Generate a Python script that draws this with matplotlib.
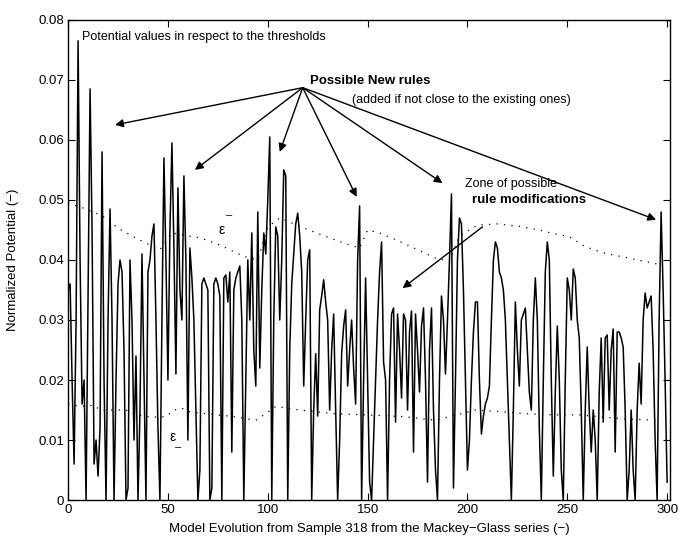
import numpy as np
import matplotlib
matplotlib.use("Agg")
import matplotlib.pyplot as plt

# normalized potential, one value per sample
potential = [
    0.035, 0.036, 0.020, 0.006, 0.030, 0.0765, 0.040, 0.016, 0.020, 0.000,   # 0-9
    0.035, 0.0685, 0.045, 0.006, 0.010, 0.004, 0.012, 0.058, 0.020, 0.000,   # 10-19
    0.030, 0.0485, 0.030, 0.000, 0.020, 0.036, 0.040, 0.038, 0.025, 0.000,   # 20-29
    0.002, 0.040, 0.030, 0.010, 0.024, 0.000, 0.015, 0.041, 0.020, 0.000,    # 30-39
    0.038, 0.040, 0.044, 0.046, 0.030, 0.012, 0.000, 0.030, 0.057, 0.040,    # 40-49
    0.020, 0.045, 0.0595, 0.042, 0.021, 0.052, 0.035, 0.030, 0.054, 0.040,   # 50-59
    0.010, 0.042, 0.037, 0.030, 0.015, 0.000, 0.005, 0.036, 0.037, 0.036,    # 60-69
    0.035, 0.000, 0.002, 0.036, 0.037, 0.036, 0.034, 0.000, 0.037, 0.0375,   # 70-79
    0.033, 0.038, 0.008, 0.035, 0.037, 0.038, 0.039, 0.030, 0.000, 0.020,    # 80-89
    0.040, 0.030, 0.0445, 0.025, 0.019, 0.048, 0.022, 0.035, 0.0445, 0.041,  # 90-99
    0.050, 0.0605, 0.000, 0.030, 0.0455, 0.044, 0.030, 0.040, 0.055, 0.054,  # 100-109
    0.000, 0.025, 0.036, 0.041, 0.046, 0.0478, 0.044, 0.038, 0.019, 0.030,   # 110-119
    0.040, 0.0417, 0.000, 0.015, 0.0244, 0.014, 0.0317, 0.034, 0.0367, 0.033,  # 120-129
    0.030, 0.015, 0.025, 0.031, 0.015, 0.000, 0.010, 0.0244, 0.029, 0.0317,  # 130-139
    0.019, 0.025, 0.030, 0.022, 0.016, 0.040, 0.049, 0.000, 0.020, 0.037,    # 140-149
    0.020, 0.003, 0.000, 0.010, 0.020, 0.030, 0.038, 0.043, 0.023, 0.020,    # 150-159
    0.000, 0.020, 0.031, 0.032, 0.013, 0.031, 0.025, 0.017, 0.031, 0.030,    # 160-169
    0.015, 0.028, 0.0315, 0.008, 0.031, 0.025, 0.018, 0.029, 0.032, 0.020,   # 170-179
    0.003, 0.025, 0.032, 0.015, 0.005, 0.000, 0.020, 0.034, 0.030, 0.021,    # 180-189
    0.030, 0.040, 0.051, 0.002, 0.020, 0.040, 0.047, 0.046, 0.035, 0.020,    # 190-199
    0.005, 0.010, 0.020, 0.028, 0.033, 0.033, 0.020, 0.011, 0.014, 0.016,    # 200-209
    0.017, 0.019, 0.030, 0.040, 0.043, 0.042, 0.038, 0.037, 0.035, 0.030,    # 210-219
    0.020, 0.010, 0.000, 0.015, 0.033, 0.025, 0.019, 0.030, 0.031, 0.032,    # 220-229
    0.025, 0.018, 0.015, 0.030, 0.037, 0.030, 0.012, 0.000, 0.020, 0.038,    # 230-239
    0.043, 0.040, 0.020, 0.004, 0.018, 0.029, 0.020, 0.005, 0.000, 0.020,    # 240-249
    0.037, 0.035, 0.030, 0.0385, 0.037, 0.030, 0.027, 0.015, 0.000, 0.015,   # 250-259
    0.0255, 0.015, 0.008, 0.015, 0.010, 0.000, 0.018, 0.027, 0.013, 0.027,   # 260-269
    0.0275, 0.015, 0.025, 0.0285, 0.008, 0.028, 0.028, 0.027, 0.0255, 0.015,  # 270-279
    0.000, 0.005, 0.015, 0.005, 0.000, 0.015, 0.0228, 0.016, 0.030, 0.0345,  # 280-289
    0.032, 0.033, 0.034, 0.025, 0.010, 0.000, 0.030, 0.048, 0.035, 0.020,    # 290-299
    0.003,                                                                   # 300
]

# upper threshold (dotted), sample index / value
upper_x = [0, 8, 14, 21, 24, 32, 39, 46, 52, 60, 66, 76, 88, 95, 100, 106, 116,
           129, 141, 146, 150, 156, 168, 184, 191, 196, 205, 215, 226, 236, 243,
           251, 259, 269, 281, 294, 297]
upper_y = [0.0495, 0.0486, 0.0478, 0.0467, 0.0455, 0.0440, 0.0428, 0.0417, 0.0445,
           0.0440, 0.0437, 0.0425, 0.0406, 0.0400, 0.0455, 0.0470, 0.0456, 0.0439,
           0.0425, 0.0420, 0.0450, 0.0445, 0.0428, 0.0403, 0.0398, 0.0440, 0.0458,
           0.0460, 0.0456, 0.0450, 0.0444, 0.0439, 0.0422, 0.0411, 0.0403, 0.0394,
           0.0392]

# lower threshold (dotted)
lower_x = [0, 6, 13, 16, 29, 32, 42, 49, 53, 57, 61, 69, 83, 94, 99, 104, 116,
           133, 149, 168, 184, 204, 218, 229, 243, 256, 276, 293, 297]
lower_y = [0.0160, 0.0156, 0.0158, 0.0150, 0.0150, 0.0144, 0.0138, 0.0139, 0.0150,
           0.0153, 0.0147, 0.0144, 0.0139, 0.0133, 0.0144, 0.0156, 0.0150, 0.0144,
           0.0142, 0.0139, 0.0133, 0.0150, 0.0147, 0.0144, 0.0142, 0.0142, 0.0136,
           0.0133, 0.0133]

x_ticks = [0, 50, 100, 150, 200, 250, 300]
y_ticks = [0, 0.01, 0.02, 0.03, 0.04, 0.05, 0.06, 0.07, 0.08]
y_tick_labels = ["0", "0.01", "0.02", "0.03", "0.04", "0.05", "0.06", "0.07", "0.08"]

plt.rcParams['font.family'] = ['Liberation Sans', 'DejaVu Sans']

fig = plt.figure(figsize=(6.81, 5.36), dpi=100)
ax = fig.add_axes([0.1, 0.067, 0.884, 0.896])

samples = np.arange(len(potential))
ax.plot(samples, potential, color='black', linewidth=1.1)
ax.plot(upper_x, upper_y, color='black', linewidth=0.9, linestyle=(0, (1, 5)))
ax.plot(lower_x, lower_y, color='black', linewidth=0.9, linestyle=(0, (1, 5)))

ax.set_xlim(0, 301.5)
ax.set_ylim(0, 0.08)
ax.set_xticks(x_ticks)
ax.set_yticks(y_ticks)
ax.set_yticklabels(y_tick_labels)
ax.tick_params(direction='in', length=5, top=True, right=True, labelsize=9.5,
               width=0.8, pad=3)
for s in ax.spines.values():
    s.set_linewidth(1.0)

ax.set_xlabel('Model Evolution from Sample 318 from the Mackey\u2212Glass series (\u2212)',
              fontsize=9.5, labelpad=5)
ax.set_ylabel('Normalized Potential (\u2212)', fontsize=9.5)
ax.yaxis.set_label_coords(-0.081, 0.5)

# annotations
ax.text(7, 0.0772, 'Potential values in respect to the thresholds', fontsize=9,
        va='center', ha='left')
ax.text(121, 0.0698, 'Possible New rules', fontsize=9.5, fontweight='bold',
        va='center', ha='left')
ax.text(142, 0.0667, '(added if not close to the existing ones)', fontsize=9,
        va='center', ha='left')
ax.text(199, 0.0527, 'Zone of possible', fontsize=9, va='center', ha='left')
ax.text(202.5, 0.0500, 'rule modifications', fontsize=9.5, fontweight='bold',
        va='center', ha='left')

# epsilon labels for the two thresholds
ax.text(76.8, 0.0450, '\u03b5', fontsize=10, va='center', ha='center')
ax.text(80.5, 0.0474, '\u2013', fontsize=8, va='center', ha='center')
ax.text(52.5, 0.0105, '\u03b5', fontsize=10, va='center', ha='center')
ax.text(55.0, 0.0088, '\u2013', fontsize=8, va='center', ha='center')

arrow = dict(arrowstyle='-|>', color='black', lw=1.0, mutation_scale=12,
             shrinkA=0, shrinkB=0)
src = (117.5, 0.0687)
tips = [(23.5, 0.0625), (63.5, 0.0550), (106, 0.0580), (144.5, 0.0505),
        (187.5, 0.0528), (294.5, 0.0467)]
for t in tips:
    ax.annotate('', xy=t, xytext=src, arrowprops=arrow)
ax.annotate('', xy=(167.5, 0.0353), xytext=(207.5, 0.0455), arrowprops=arrow)

fig.savefig('out.png', dpi=100)
